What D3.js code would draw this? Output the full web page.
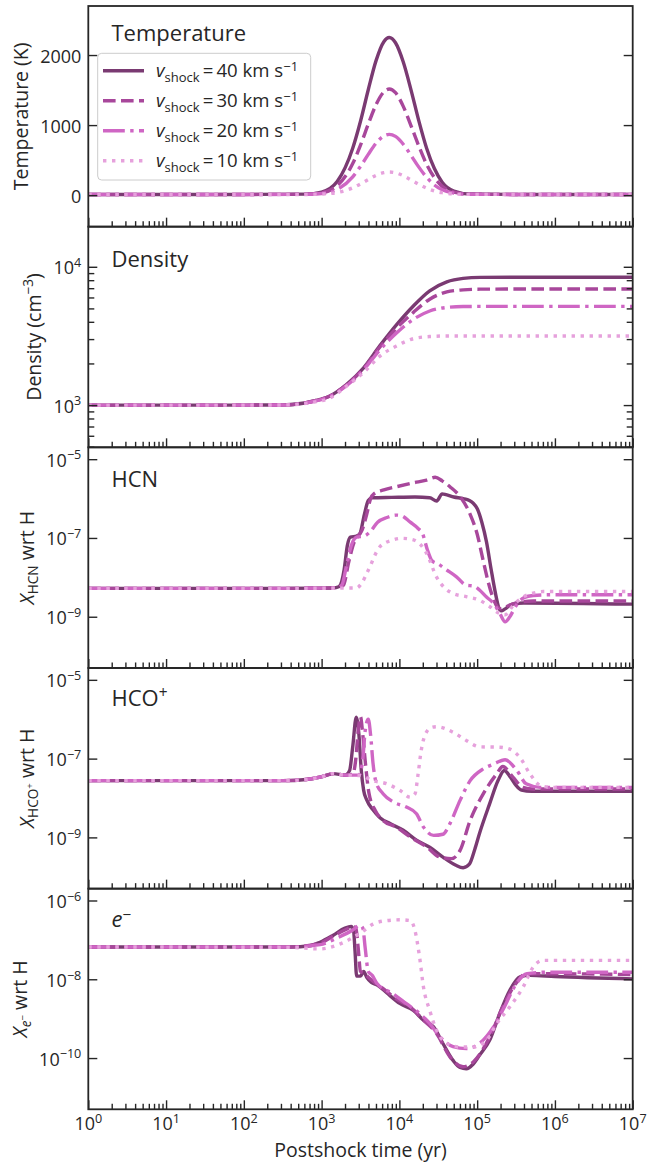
<!DOCTYPE html>
<html>
<head>
<meta charset="utf-8">
<script src="https://cdn.jsdelivr.net/npm/d3@7"></script>
<style>
  body { margin: 0; background: #fff; }
  svg text { font-family: "Open Sans", "Noto Sans", sans-serif; fill: #262626; }
</style>
</head>
<body>
<svg id="chart" width="649" height="1166"></svg>
<script>
// ---------------------------------------------------------------
// Data: post-shock evolution for four shock velocities
// ---------------------------------------------------------------
const shockSpeeds = [40, 30, 20, 10]; // km s^-1

// Gas temperature (K) on a log10(time / yr) grid
const tempLogTime = [0, 2, 2.8, 3.0, 3.2, 3.4, 3.5, 3.6, 3.7, 3.8, 3.87, 3.95, 4.05, 4.15, 4.25, 4.35, 4.45, 4.55, 4.7, 4.9, 5.5, 7];
const temp40 = [10, 10, 14, 44, 195, 670, 1055, 1505, 1920, 2190, 2250, 2175, 1900, 1500, 1060, 670, 380, 185, 58, 16, 10, 10];
const temp30 = [10, 10, 13, 33, 135, 450, 713, 1014, 1292, 1474, 1515, 1462, 1267, 990, 700, 440, 250, 125, 43, 14, 10, 10];
const temp20 = [10, 10, 11, 23, 81, 261, 411, 582, 741, 845, 868, 838, 727, 567, 400, 255, 145, 76, 29, 12, 10, 10];
const temp10 = [10, 10, 10, 15, 37, 104, 160, 223, 283, 321, 330, 319, 277, 217, 155, 100, 59, 35, 17, 11, 10, 10];

// Density (cm^-3) on a log10(time / yr) grid
const densLogTime = [0, 2, 2.5, 2.9, 3.1, 3.32, 3.54, 3.75, 3.97, 4.18, 4.39, 4.61, 4.82, 5.04, 5.5, 6, 7];
const dens40 = [1000, 1000, 1002, 1070, 1160, 1410, 1860, 2690, 3850, 5210, 6700, 7780, 8240, 8380, 8400, 8400, 8400];
const dens30 = [1000, 1000, 1002, 1070, 1160, 1400, 1840, 2630, 3630, 4680, 5830, 6590, 6810, 6890, 6900, 6900, 6900];
const dens20 = [1000, 1000, 1002, 1065, 1150, 1380, 1800, 2510, 3350, 4170, 4790, 5080, 5160, 5170, 5170, 5170, 5170];
const dens10 = [1000, 1000, 1002, 1050, 1120, 1370, 1720, 2260, 2690, 3020, 3130, 3160, 3160, 3160, 3160, 3160, 3160];

// Fractional abundances: pairs of [log10(time / yr), log10(X wrt H)]
const hcn40 = [[0,-8.28],[2.5,-8.28],[3.15,-8.27],[3.22,-8.24],[3.29,-7.8],[3.33,-7.2],[3.37,-6.98],[3.45,-6.95],[3.49,-6.9],[3.55,-6.4],[3.6,-6.05],[3.65,-5.98],[3.9,-5.97],[4.2,-5.96],[4.39,-5.98],[4.48,-6.06],[4.55,-5.88],[4.6,-5.9],[4.7,-5.96],[4.82,-6.0],[4.9,-6.05],[4.95,-6.12],[5.0,-6.25],[5.06,-6.6],[5.12,-7.1],[5.18,-7.8],[5.23,-8.35],[5.28,-8.78],[5.31,-8.85],[5.36,-8.8],[5.45,-8.68],[5.6,-8.65],[7,-8.68]];
const hcn30 = [[0,-8.28],[2.5,-8.28],[3.2,-8.27],[3.28,-8.2],[3.35,-7.6],[3.42,-7.1],[3.47,-6.95],[3.52,-6.8],[3.58,-6.4],[3.63,-6.0],[3.68,-5.87],[3.8,-5.78],[3.96,-5.7],[4.18,-5.6],[4.35,-5.53],[4.46,-5.46],[4.55,-5.55],[4.65,-5.7],[4.78,-5.95],[4.91,-6.4],[5.0,-6.9],[5.08,-7.6],[5.14,-8.1],[5.2,-8.5],[5.26,-8.75],[5.31,-8.8],[5.4,-8.72],[5.5,-8.65],[5.72,-8.6],[7,-8.6]];
const hcn20 = [[0,-8.28],[2.5,-8.28],[3.2,-8.27],[3.26,-8.2],[3.32,-7.7],[3.38,-7.2],[3.45,-6.98],[3.55,-6.95],[3.62,-6.85],[3.72,-6.6],[3.84,-6.48],[3.96,-6.42],[4.02,-6.43],[4.14,-6.6],[4.24,-6.76],[4.3,-6.9],[4.36,-7.3],[4.42,-7.58],[4.5,-7.66],[4.6,-7.8],[4.73,-7.98],[4.86,-8.2],[4.95,-8.22],[5.03,-8.32],[5.12,-8.5],[5.21,-8.66],[5.29,-8.91],[5.36,-9.13],[5.42,-9.0],[5.5,-8.72],[5.6,-8.52],[5.72,-8.46],[6,-8.44],[7,-8.44]];
const hcn10 = [[0,-8.28],[2.5,-8.28],[3.45,-8.27],[3.515,-8.15],[3.6,-7.82],[3.75,-7.22],[3.92,-7.05],[4.03,-7.01],[4.18,-7.05],[4.35,-7.39],[4.48,-8.0],[4.6,-8.3],[4.69,-8.41],[4.86,-8.49],[5.03,-8.58],[5.16,-8.74],[5.29,-8.92],[5.36,-8.95],[5.46,-8.72],[5.59,-8.5],[5.72,-8.4],[5.85,-8.36],[7,-8.36]];

const hcop40 = [[0,-7.56],[2.5,-7.56],[2.8,-7.53],[3.0,-7.46],[3.15,-7.38],[3.3,-7.42],[3.36,-7.3],[3.4,-6.7],[3.445,-5.95],[3.48,-6.4],[3.51,-7.3],[3.54,-7.8],[3.58,-8.05],[3.66,-8.3],[3.75,-8.5],[3.88,-8.65],[4.05,-8.82],[4.22,-9.07],[4.39,-9.25],[4.56,-9.5],[4.72,-9.7],[4.82,-9.77],[4.9,-9.68],[4.97,-9.3],[5.03,-8.9],[5.16,-8.15],[5.27,-7.55],[5.35,-7.3],[5.42,-7.45],[5.5,-7.68],[5.57,-7.8],[5.7,-7.83],[7,-7.83]];
const hcop30 = [[0,-7.56],[2.5,-7.56],[2.8,-7.53],[3.0,-7.46],[3.15,-7.38],[3.3,-7.42],[3.4,-7.4],[3.44,-7.0],[3.47,-6.3],[3.5,-5.94],[3.53,-6.4],[3.56,-7.05],[3.61,-7.89],[3.69,-8.32],[3.79,-8.57],[3.96,-8.74],[4.14,-8.99],[4.35,-9.24],[4.52,-9.5],[4.67,-9.54],[4.78,-9.33],[4.91,-8.57],[5.08,-7.89],[5.25,-7.39],[5.33,-7.2],[5.46,-7.47],[5.59,-7.73],[5.72,-7.77],[7,-7.77]];
const hcop20 = [[0,-7.56],[2.5,-7.56],[2.8,-7.53],[3.0,-7.46],[3.15,-7.38],[3.3,-7.42],[3.48,-7.42],[3.53,-7.0],[3.56,-6.3],[3.6,-6.0],[3.63,-6.4],[3.66,-7.1],[3.7,-7.6],[3.79,-7.89],[3.92,-8.1],[4.09,-8.23],[4.22,-8.4],[4.31,-8.74],[4.44,-8.95],[4.56,-8.92],[4.65,-8.65],[4.78,-8.06],[4.91,-7.56],[5.08,-7.26],[5.21,-7.14],[5.36,-7.03],[5.51,-7.3],[5.63,-7.64],[5.81,-7.73],[7,-7.73]];
const hcop10 = [[0,-7.56],[2.5,-7.56],[2.8,-7.53],[3.0,-7.46],[3.15,-7.38],[3.3,-7.42],[3.49,-7.43],[3.66,-7.56],[3.84,-7.64],[4.01,-7.81],[4.14,-7.98],[4.2,-7.9],[4.24,-7.4],[4.28,-6.8],[4.33,-6.4],[4.41,-6.21],[4.48,-6.19],[4.69,-6.33],[4.86,-6.54],[5.03,-6.7],[5.29,-6.71],[5.42,-6.76],[5.55,-6.97],[5.68,-7.39],[5.81,-7.68],[5.95,-7.73],[7,-7.73]];

const elec40 = [[0,-7.18],[2.6,-7.18],[2.85,-7.15],[2.98,-7.06],[3.15,-6.88],[3.3,-6.7],[3.38,-6.66],[3.41,-6.75],[3.43,-7.3],[3.45,-7.92],[3.5,-7.92],[3.54,-7.8],[3.58,-7.95],[3.64,-8.08],[3.72,-8.15],[3.84,-8.35],[4.01,-8.62],[4.18,-8.79],[4.31,-9.04],[4.44,-9.21],[4.56,-9.63],[4.69,-10.06],[4.78,-10.24],[4.86,-10.27],[4.95,-10.15],[5.03,-9.93],[5.16,-9.55],[5.29,-8.87],[5.42,-8.28],[5.55,-7.94],[5.68,-7.9],[6,-7.93],[7,-7.99]];
const elec30 = [[0,-7.18],[2.6,-7.18],[2.98,-7.08],[3.15,-6.9],[3.3,-6.75],[3.41,-6.66],[3.44,-6.7],[3.47,-7.2],[3.5,-7.8],[3.55,-7.85],[3.6,-7.95],[3.66,-8.05],[3.8,-8.25],[3.96,-8.5],[4.14,-8.7],[4.31,-9.04],[4.48,-9.38],[4.65,-9.97],[4.82,-10.22],[4.95,-10.1],[5.16,-9.47],[5.33,-8.7],[5.5,-8.1],[5.63,-7.86],[6,-7.86],[7,-7.88]];
const elec20 = [[0,-7.18],[2.6,-7.18],[2.98,-7.12],[3.2,-6.95],[3.4,-6.75],[3.49,-6.63],[3.53,-6.7],[3.56,-7.2],[3.6,-7.8],[3.65,-7.9],[3.71,-8.1],[3.92,-8.37],[4.09,-8.62],[4.26,-8.87],[4.39,-9.12],[4.52,-9.46],[4.69,-9.71],[4.86,-9.76],[5.03,-9.63],[5.21,-9.21],[5.35,-8.7],[5.5,-8.12],[5.64,-7.86],[5.9,-7.82],[7,-7.82]];
const elec10 = [[0,-7.18],[2.6,-7.19],[2.98,-7.23],[3.24,-7.1],[3.54,-6.77],[3.66,-6.6],[3.84,-6.51],[4.01,-6.49],[4.14,-6.51],[4.2,-6.76],[4.26,-7.44],[4.31,-8.2],[4.39,-8.79],[4.48,-9.3],[4.61,-9.63],[4.78,-9.72],[4.95,-9.72],[5.12,-9.55],[5.25,-9.13],[5.42,-8.7],[5.59,-8.2],[5.72,-7.69],[5.85,-7.52],[7,-7.52]];

// Axis ranges and tick values
const timeDomain = [1, 1e7];
const timeTickValues = [1e0, 1e1, 1e2, 1e3, 1e4, 1e5, 1e6, 1e7];
const tempDomain = [-450, 2700];
const tempTickValues = [0, 1000, 2000];
const densDomain = [495, 19500];
const densTickValues = [1e3, 1e4];
const abundDomain = [5e-11, 2e-5];
const abundTickValues = [1e-9, 1e-7, 1e-5];
const elecDomain = [5e-12, 2e-6];
const elecTickValues = [1e-10, 1e-8, 1e-6];

// ---------------------------------------------------------------
// Layout and styles
// ---------------------------------------------------------------
const plotLeft = 88.3, plotRight = 632.7, plotTop = 6, panelH = 220.66;
const LW = 3.4;
const lineStyles = [
  { color: '#7a3a72', dash: null },
  { color: '#a8479b', dash: '12.6,5.4' },
  { color: '#cf66c4', dash: '21.8,5.4,3.4,5.4' },
  { color: '#e6a1dc', dash: '3.4,5.6' }
];
const INK = '#262626';
const TICK_FS = 18, LABEL_FS = 19.5, TITLE_FS = 22, LEGEND_FS = 18.6;

const svg = d3.select('#chart');
const x = d3.scaleLog().domain(timeDomain).range([plotLeft, plotRight]);

const fromGrid = (grid, vals) => grid.map((lt, i) => ({ t: Math.pow(10, lt), v: vals[i] }));
const fromLogPairs = pairs => pairs.map(([lt, lv]) => ({ t: Math.pow(10, lt), v: Math.pow(10, lv) }));
const isDecade = v => Math.abs(Math.log10(v) - Math.round(Math.log10(v))) < 1e-9;
const minus = s => s.replace('-', '\u2212');

// Writes a sequence of styled runs (italic / sub / sup) into a text element
function richText(sel, parts, size, supRaise = 0.4) {
  let cur = 0;
  parts.forEach(p => {
    let off = 0, fs = size;
    if (p.sub) { off = size * 0.24; fs = size * 0.7; }
    if (p.sup) { off = -size * supRaise; fs = size * 0.7; }
    if (p.subsup) { off = -size * 0.02; fs = size * 0.5; }
    const ts = sel.append('tspan').text(p.t).attr('font-size', fs);
    if (off !== cur) ts.attr('dy', off - cur);
    if (p.italic) ts.attr('font-style', 'italic');
    cur = off;
  });
  return sel;
}
const powParts = v => [{ t: '10' }, { t: minus(String(Math.round(Math.log10(v)))), sup: true }];

const panels = [
  {
    log: false, domain: tempDomain, ticks: tempTickValues, minor: false,
    series: [fromGrid(tempLogTime, temp40), fromGrid(tempLogTime, temp30), fromGrid(tempLogTime, temp20), fromGrid(tempLogTime, temp10)],
    title: [{ t: 'Temperature' }], titleY: 34.7,
    ylabel: [{ t: 'Temperature (K)' }], legend: true
  },
  {
    log: true, domain: densDomain, ticks: densTickValues, minor: true,
    series: [fromGrid(densLogTime, dens40), fromGrid(densLogTime, dens30), fromGrid(densLogTime, dens20), fromGrid(densLogTime, dens10)],
    title: [{ t: 'Density' }], titleY: 40.8,
    ylabel: [{ t: 'Density (cm' }, { t: '\u22123', sup: true }, { t: ')' }]
  },
  {
    log: true, domain: abundDomain, ticks: abundTickValues, minor: false,
    series: [hcn40, hcn30, hcn20, hcn10].map(fromLogPairs),
    title: [{ t: 'HCN' }], titleY: 39.6,
    ylabel: [{ t: 'X', italic: true }, { t: 'HCN', sub: true }, { t: ' wrt H' }]
  },
  {
    log: true, domain: abundDomain, ticks: abundTickValues, minor: false,
    series: [hcop40, hcop30, hcop20, hcop10].map(fromLogPairs),
    title: [{ t: 'HCO' }, { t: '+', sup: true }], titleY: 38.4,
    ylabel: [{ t: 'X', italic: true }, { t: 'HCO', sub: true }, { t: '+', subsup: true }, { t: ' wrt H' }]
  },
  {
    log: true, domain: elecDomain, ticks: elecTickValues, minor: false,
    series: [elec40, elec30, elec20, elec10].map(fromLogPairs),
    title: [{ t: 'e', italic: true }, { t: '\u2212', sup: true }], titleY: 38.8,
    ylabel: [{ t: 'X', italic: true }, { t: 'e', sub: true, italic: true }, { t: '\u2212', subsup: true }, { t: ' wrt H' }],
    xlabels: true
  }
];

panels.forEach((p, i) => {
  const g = svg.append('g').attr('transform', `translate(0,${plotTop + i * panelH})`);
  const y = (p.log ? d3.scaleLog() : d3.scaleLinear()).domain(p.domain).range([panelH, 0]);

  const clipId = 'panel-clip-' + i;
  g.append('clipPath').attr('id', clipId)
    .append('rect').attr('x', plotLeft).attr('y', 0).attr('width', plotRight - plotLeft).attr('height', panelH);

  // curves, fastest shock first so slower ones sit on top
  const line = d3.line().x(d => x(d.t)).y(d => y(d.v)).curve(d3.curveMonotoneX);
  const lg = g.append('g').attr('clip-path', `url(#${clipId})`);
  p.series.forEach((s, k) => {
    lg.append('path').datum(s)
      .attr('d', line)
      .attr('fill', 'none')
      .attr('stroke', lineStyles[k].color)
      .attr('stroke-width', LW)
      .attr('stroke-linecap', 'butt')
      .attr('stroke-dasharray', lineStyles[k].dash);
  });

  // x ticks, pointing inward from the bottom spine
  const xMinor = x.ticks().filter(t => !isDecade(t));
  const styleAxis = a => { a.select('.domain').remove(); a.selectAll('line').attr('stroke', INK).attr('stroke-width', 1.4); };
  g.append('g').attr('transform', `translate(0,${panelH})`)
    .call(d3.axisBottom(x).tickValues(timeTickValues).tickSize(-9).tickFormat(''))
    .call(styleAxis);
  g.append('g').attr('transform', `translate(0,${panelH})`)
    .call(d3.axisBottom(x).tickValues(xMinor).tickSize(-5.5).tickFormat(''))
    .call(styleAxis);

  // y ticks on both sides, pointing inward
  g.append('g').attr('transform', `translate(${plotLeft},0)`)
    .call(d3.axisLeft(y).tickValues(p.ticks).tickSize(-9).tickFormat('')).call(styleAxis);
  g.append('g').attr('transform', `translate(${plotRight},0)`)
    .call(d3.axisRight(y).tickValues(p.ticks).tickSize(-9).tickFormat('')).call(styleAxis);
  if (p.minor) {
    const yMinor = y.ticks().filter(t => !isDecade(t) && t >= p.domain[0] && t <= p.domain[1]);
    g.append('g').attr('transform', `translate(${plotLeft},0)`)
      .call(d3.axisLeft(y).tickValues(yMinor).tickSize(-6).tickFormat('')).call(styleAxis);
    g.append('g').attr('transform', `translate(${plotRight},0)`)
      .call(d3.axisRight(y).tickValues(yMinor).tickSize(-6).tickFormat('')).call(styleAxis);
  }

  // y tick labels
  const labelNodes = [];
  p.ticks.forEach(v => {
    const t = g.append('text')
      .attr('x', plotLeft - 7).attr('y', y(v) + 7.5)
      .attr('text-anchor', 'end').attr('font-size', TICK_FS);
    richText(t, p.log ? powParts(v) : [{ t: String(v) }], TICK_FS);
    labelNodes.push(t.node());
  });

  // spines
  g.append('rect').attr('x', plotLeft).attr('y', 0).attr('width', plotRight - plotLeft).attr('height', panelH)
    .attr('fill', 'none').attr('stroke', INK).attr('stroke-width', 1.8);

  // panel title
  richText(g.append('text').attr('x', 111.5).attr('y', p.titleY).attr('font-size', TITLE_FS), p.title, TITLE_FS, 0.36);

  // y-axis label placed just left of the widest tick label
  const minLeft = d3.min(labelNodes, n => n.getBBox().x);
  const yl = g.append('text')
    .attr('transform', `translate(${minLeft - 12.5},${panelH / 2}) rotate(-90)`)
    .attr('text-anchor', 'middle').attr('font-size', LABEL_FS);
  richText(yl, p.ylabel, LABEL_FS);

  // x tick labels on the bottom panel only
  if (p.xlabels) {
    timeTickValues.forEach(v => {
      const t = g.append('text').attr('x', x(v)).attr('y', panelH + 20.7)
        .attr('text-anchor', 'middle').attr('font-size', TICK_FS);
      richText(t, powParts(v), TICK_FS);
    });
  }

  // legend in the temperature panel
  if (p.legend) {
    const lgd = g.append('g');
    lgd.append('rect').attr('x', 97.7).attr('y', 47.3).attr('width', 213).attr('height', 126.7)
      .attr('rx', 4).attr('fill', '#fff').attr('fill-opacity', 0.8)
      .attr('stroke', '#cccccc').attr('stroke-width', 1);
    shockSpeeds.forEach((sp, k) => {
      const ry = 64.7 + k * 30;
      lgd.append('line').attr('x1', 103).attr('x2', 144).attr('y1', ry).attr('y2', ry)
        .attr('stroke', lineStyles[k].color).attr('stroke-width', LW)
        .attr('stroke-dasharray', lineStyles[k].dash);
      const t = lgd.append('text').attr('x', 156).attr('y', ry + 6.5).attr('font-size', LEGEND_FS);
      richText(t, [
        { t: 'v', italic: true }, { t: 'shock', sub: true },
        { t: '\u2009=\u2009' + sp + ' km s' }, { t: '\u22121', sup: true }
      ], LEGEND_FS, 0.33);
    });
  }
});

// shared x-axis label
svg.append('text')
  .attr('x', (plotLeft + plotRight) / 2).attr('y', 1157)
  .attr('text-anchor', 'middle').attr('font-size', LABEL_FS)
  .text('Postshock time (yr)');
</script>
</body>
</html>
